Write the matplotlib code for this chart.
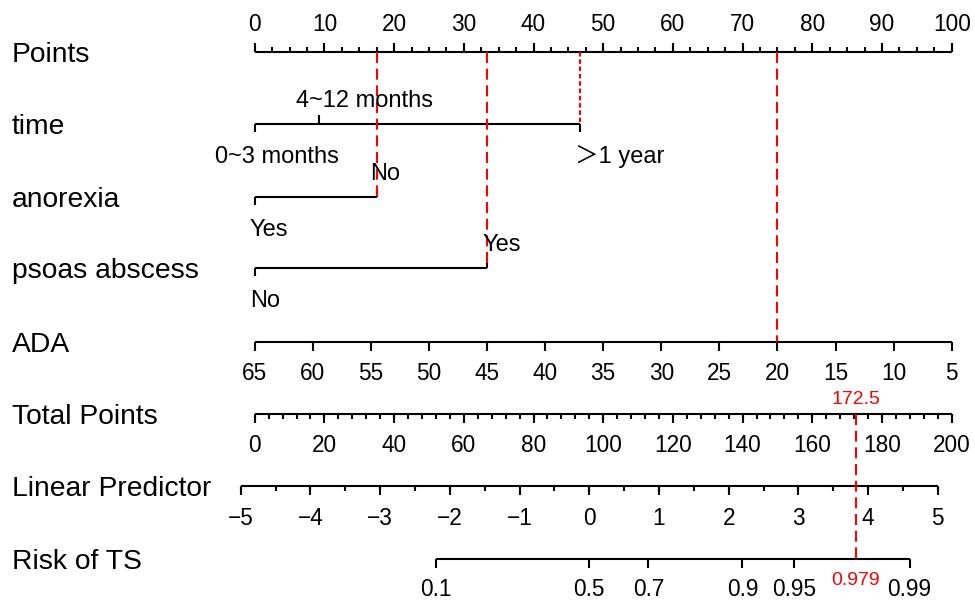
import numpy as np
import matplotlib.pyplot as plt
from matplotlib import transforms

plt.rcParams['font.family'] = ['Liberation Sans', 'Noto Sans CJK SC', 'DejaVu Sans']

# ---- data ----
row_names = ['Points', 'time', 'anorexia', 'psoas abscess', 'ADA',
             'Total Points', 'Linear Predictor', 'Risk of TS']

points_major = np.arange(0, 101, 10)
points_minor = np.arange(0, 101, 2.5)

time_levels = ['0~3 months', '4~12 months', '＞1 year']
time_points = [0, 9.2, 46.7]

anorexia_levels = ['Yes', 'No']
anorexia_points = [0, 17.5]

psoas_levels = ['No', 'Yes']
psoas_points = [0, 33.3]

ada_ticks = np.arange(65, 4, -5)
ada_at_0, ada_at_100 = 65, 5

total_major = np.arange(0, 201, 20)
total_minor = np.arange(0, 201, 4)

lp_major = np.arange(-5, 6, 1)
lp_minor = np.arange(-5, 5.01, 0.5)
lp_intercept = -4.8
lp_per_point = 0.05

risk_ticks = [0.1, 0.5, 0.7, 0.9, 0.95, 0.99]

# the example patient
pat_time = '＞1 year'
pat_anorexia = 'No'
pat_psoas = 'Yes'
pat_ada = 20


def ada_pts(v):
    return (ada_at_0 - np.asarray(v, float)) / (ada_at_0 - ada_at_100) * 100


def tot_x(t):
    # total points axis spans 0..200 over the 0..100 points width
    return np.asarray(t, float) / 2


def lp_x(lp):
    return tot_x((np.asarray(lp, float) - lp_intercept) / lp_per_point)


def risk_x(p):
    p = np.asarray(p, float)
    return lp_x(np.log(p / (1 - p)))


# ---- layout (pixels) ----
W, H = 975, 603
x0, ppu = 254.7, 6.97          # pixel of 0 points, pixels per point
rows = dict(zip(row_names, [51.7, 124, 196.7, 268.3, 341.7, 414, 486, 559]))

fig = plt.figure(figsize=(W / 100, H / 100), dpi=100)
ax = fig.add_axes([0, 0, 1, 1])
ax.set_xlim(-x0 / ppu, (W - x0) / ppu)
ax.set_ylim(H, 0)
ax.axis('off')

LW = 1.5
TICK_FS = 16.3
lab_tr = transforms.blended_transform_factory(ax.transAxes, ax.transData)

for name in row_names:
    ax.text(12 / W, rows[name] + 10, name, transform=lab_tr, fontsize=20.3,
            ha='left', va='baseline')


def scale(y, major, labels, minor=None, up=False, lab_dy=38):
    s = -1 if up else 1
    allx = np.concatenate([major, minor]) if minor is not None else major
    ax.plot([allx.min(), allx.max()], [y, y], color='black', lw=LW,
            solid_capstyle='butt')
    ax.vlines(major, y, y + s * 9, color='black', lw=LW)
    if minor is not None:
        ax.vlines(minor, y, y + s * 5, color='black', lw=LW)
    for xv, lab in zip(major, labels):
        ax.text(xv, y + lab_dy, lab, fontsize=TICK_FS, ha='center', va='baseline')


def fmt(v):
    return ('%g' % v).replace('-', '\u2212')


scale(rows['Points'], points_major, [fmt(v) for v in points_major],
      minor=points_minor, up=True, lab_dy=-21)
scale(rows['ADA'], ada_pts(ada_ticks), [fmt(v) for v in ada_ticks])
scale(rows['Total Points'], tot_x(total_major), [fmt(v) for v in total_major],
      minor=tot_x(total_minor))
scale(rows['Linear Predictor'], lp_x(lp_major), [fmt(v) for v in lp_major],
      minor=lp_x(lp_minor), lab_dy=39)
scale(rows['Risk of TS'], risk_x(risk_ticks), [fmt(v) for v in risk_ticks],
      lab_dy=37.5)


def factor(y, pts, levels, sides, dxs):
    ax.plot([min(pts), max(pts)], [y, y], color='black', lw=LW,
            solid_capstyle='butt')
    for xv, lab, side, dx in zip(pts, levels, sides, dxs):
        up = side == 'above'
        ax.vlines(xv, y, y + (-9 if up else 8), color='black', lw=LW)
        tr = transforms.offset_copy(ax.transData, fig=fig, x=dx, y=0, units='dots')
        ax.text(xv, y + (-17 if up else 39), lab, transform=tr,
                fontsize=17, ha='center', va='baseline')


factor(rows['time'], time_points, time_levels,
       ['below', 'above', 'below'], [22, 46, 39])
factor(rows['anorexia'], anorexia_points, anorexia_levels,
       ['below', 'above'], [14, 8])
factor(rows['psoas abscess'], psoas_points, psoas_levels,
       ['below', 'above'], [10, 15])

# ---- patient lines ----
red = '#ff0000'
p_time = time_points[time_levels.index(pat_time)]
p_anor = anorexia_points[anorexia_levels.index(pat_anorexia)]
p_psoas = psoas_points[psoas_levels.index(pat_psoas)]
p_ada = float(ada_pts(pat_ada))

top = rows['Points']
ax.plot([p_time, p_time], [top, rows['time']], color=red, lw=1.5,
        dashes=(2.2, 1.3))
for xv, row in [(p_anor, 'anorexia'), (p_psoas, 'psoas abscess'), (p_ada, 'ADA')]:
    ax.plot([xv, xv], [top, rows[row]], color=red, lw=LW, dashes=(5.3, 2.7))

total = p_time + p_anor + p_psoas + p_ada
lp = lp_intercept + lp_per_point * total
risk = 1 / (1 + np.exp(-lp))
xt = float(tot_x(total))
ax.plot([xt, xt], [rows['Total Points'], rows['Risk of TS']], color=red,
        lw=LW, dashes=(5.3, 2.7))

narrow = ['Liberation Sans Narrow', 'Liberation Sans', 'DejaVu Sans']
ax.text(xt, rows['Total Points'] - 9.7, '%.1f' % total, color=red, fontsize=14,
        family=narrow, ha='center', va='baseline')
ax.text(xt, rows['Risk of TS'] + 26, '%.3f' % risk, color=red, fontsize=14,
        family=narrow, ha='center', va='baseline')

fig.savefig('out.png', dpi=100)
